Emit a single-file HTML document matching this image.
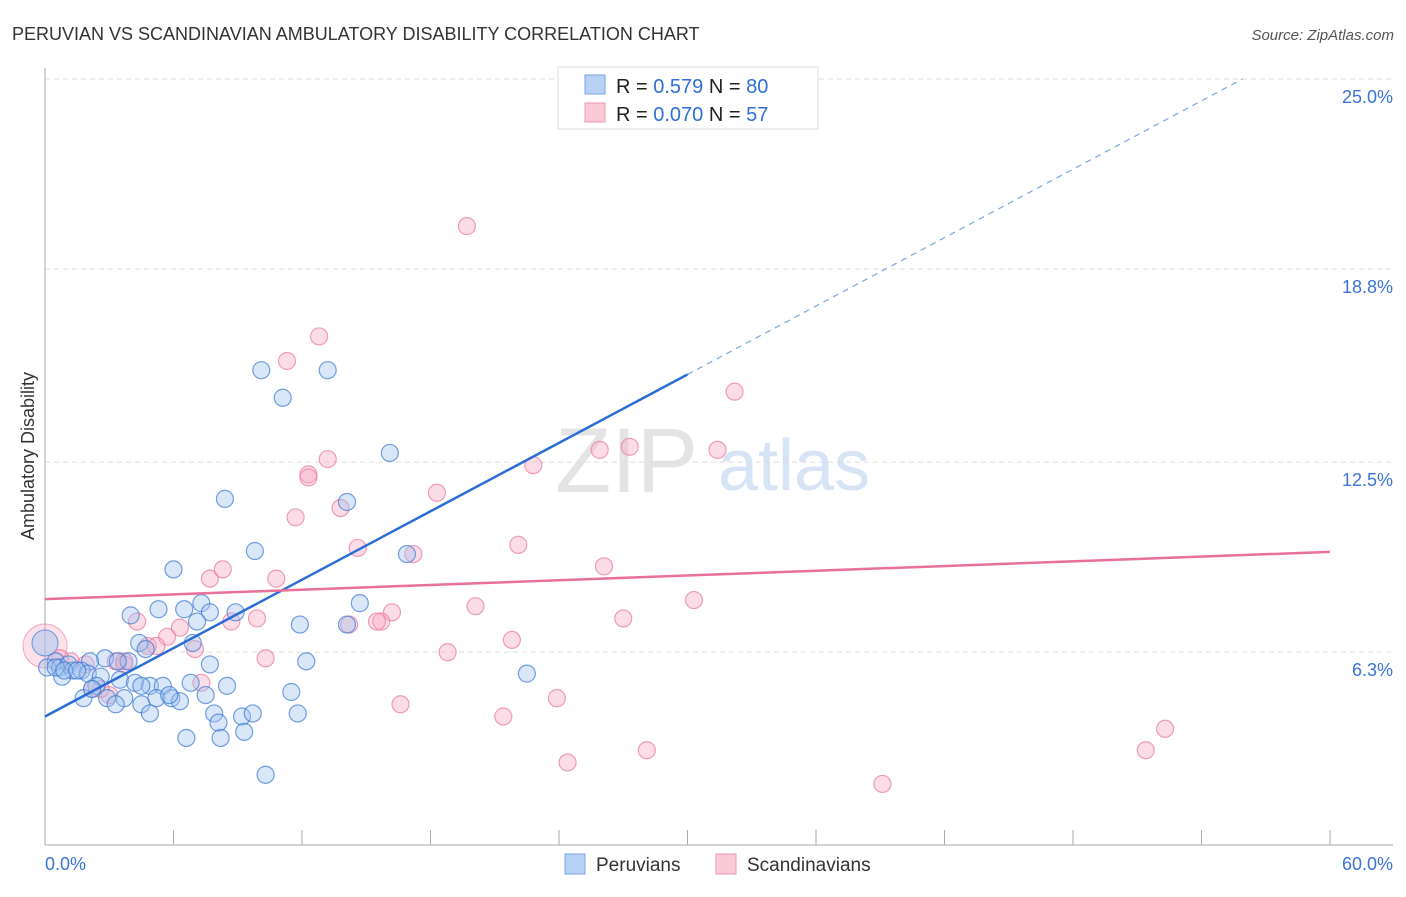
<!DOCTYPE html>
<html><head><meta charset="utf-8"><style>
body{margin:0;background:#fff;font-family:"Liberation Sans",sans-serif}
svg text{font-family:"Liberation Sans",sans-serif}
</style></head><body>
<svg width="1406" height="892" viewBox="0 0 1406 892">
<text x="12" y="40" font-size="18" fill="#333">PERUVIAN VS SCANDINAVIAN AMBULATORY DISABILITY CORRELATION CHART</text>
<text x="1394" y="40" font-size="15" fill="#555" text-anchor="end" font-style="italic">Source: ZipAtlas.com</text>
<text x="555" y="492" font-size="92" fill="#e4e4e4" font-family="Liberation Serif">ZIP</text>
<text x="718" y="490" font-size="72" fill="#d6e4f5">atlas</text>
<g id="grid"></g>
<g id="axes"></g>
<g id="pts"></g>
<g id="lines"></g>
<text transform="translate(34,456) rotate(-90)" font-size="18" fill="#333" text-anchor="middle">Ambulatory Disability</text>
<g>
<rect x="558" y="67" width="260" height="62" fill="#fff" stroke="#ddd"/>
<rect x="585" y="75" width="20" height="19" fill="#b8d2f5" stroke="#7aa6e0"/>
<rect x="585" y="103" width="20" height="19" fill="#fbcad8" stroke="#ee9ab3"/>
<text x="616" y="93" font-size="20" fill="#222">R = <tspan fill="#2f6fd6">0.579</tspan>   N = <tspan fill="#2f6fd6">80</tspan></text>
<text x="616" y="121" font-size="20" fill="#222">R = <tspan fill="#2f6fd6">0.070</tspan>   N =  <tspan fill="#2f6fd6">57</tspan></text>
</g>
<g>
<rect x="565" y="854" width="20" height="20" fill="#b8d2f5" stroke="#7aa6e0"/>
<text x="596" y="871" font-size="19" fill="#333">Peruvians</text>
<rect x="716" y="854" width="20" height="20" fill="#fbcad8" stroke="#ee9ab3"/>
<text x="747" y="871" font-size="19" fill="#333">Scandinavians</text>
</g>
</svg>
<script>
const blueX=[10.1,13.2,11.1,16.1,8.4,14.1,9.8,16.9,6.0,14.7,7.3,4.0,5.3,6.5,7.7,8.9,7.1,11.9,14.1,4.4,4.7,6.9,2.8,3.9,3.4,2.1,0.5,0.1,0.7,1.1,1.3,1.7,2.0,0.8,2.6,3.5,4.2,4.9,5.5,7.7,12.2,6.8,8.5,11.5,2.4,2.9,1.8,3.7,5.2,5.9,6.3,7.5,3.3,4.5,4.9,7.9,9.2,9.7,11.8,8.1,9.3,6.6,8.2,22.5,10.3,0.5,0.9,1.5,2.2,5.8,4.5];
const blueY=[15.5,15.5,14.6,12.8,11.3,11.2,9.6,9.5,9.0,7.9,7.9,7.5,7.7,7.7,7.6,7.6,7.3,7.2,7.2,6.6,6.4,6.6,6.1,6.0,6.0,6.0,6.0,5.8,5.8,5.9,5.7,5.7,5.6,5.5,5.5,5.4,5.3,5.2,5.2,5.9,6.0,5.3,5.2,5.0,5.2,4.8,4.8,4.8,4.8,4.8,4.7,4.9,4.6,4.6,4.3,4.3,4.2,4.3,4.3,4.0,3.7,3.5,3.5,5.6,2.3,5.8,5.7,5.7,5.1,4.9,5.2];
const pinkX=[19.7,12.8,11.3,32.2,27.3,31.4,25.9,13.2,22.8,12.3,18.3,11.7,13.8,14.6,22.1,17.2,26.1,7.7,8.3,10.8,20.1,30.3,16.2,4.3,8.7,9.9,15.7,15.5,14.2,27.0,6.3,5.7,4.8,5.2,7.0,21.8,18.8,10.3,3.3,3.7,1.2,1.9,0.7,7.3,16.6,23.9,21.4,52.3,51.4,28.1,24.4,39.1,3.0,2.6,3.7,12.3,2.2];
const pinkY=[20.2,16.6,15.8,14.8,13.0,12.9,12.9,12.6,12.4,12.1,11.5,10.7,11.0,9.7,9.8,9.5,9.1,8.7,9.0,8.7,7.8,8.0,7.6,7.3,7.3,7.4,7.3,7.3,7.2,7.4,7.1,6.8,6.5,6.5,6.4,6.7,6.3,6.1,6.0,6.0,6.0,5.9,6.1,5.3,4.6,4.8,4.2,3.8,3.1,3.1,2.7,2.0,4.9,5.1,5.9,12.0,5.1];
const yTicks=[25.0,18.8,12.5,6.3];
const yTickLabels=["25.0%","18.8%","12.5%","6.3%"];
const xTickCount=10;
const xMax=60;
const blueTrend=[4.2,0.372]; // intercept, slope
const pinkTrend=[8.03,0.0257];
const blueSolidEnd=30;

const X0=45,X1=1330,YT=79,PPU=30.65;
const sx=v=>X0+v*(X1-X0)/xMax;
const sy=v=>YT+(25-v)*PPU;
const NS="http://www.w3.org/2000/svg";
function mk(tag,parent,attrs){const e=document.createElementNS(NS,tag);for(const k in attrs)e.setAttribute(k,attrs[k]);parent.appendChild(e);return e;}
const grid=document.getElementById('grid'),axes=document.getElementById('axes'),pts=document.getElementById('pts'),lines=document.getElementById('lines');
yTicks.forEach((t,i)=>{
  const l=mk('line',grid,{x1:X0,x2:1393,y1:sy(t),y2:sy(t),stroke:'#ddd','stroke-dasharray':'5,4'});
  
  
  const tx=mk('text',axes,{x:1393,y:sy(t)+24,'font-size':18,fill:'#3a74d6','text-anchor':'end'});
  tx.textContent=yTickLabels[i];
  
  
});
const ya=mk('line',axes,{x1:X0,x2:X0,y1:68,y2:845,stroke:'#aaa'});


const xa=mk('line',axes,{x1:X0,x2:1393,y1:845,y2:845,stroke:'#aaa'});


for(let i=0;i<=xTickCount;i++){
  const x=sx(i*xMax/xTickCount);
  const t=mk('line',axes,{x1:x,x2:x,y1:830,y2:845,stroke:'#aaa'});
  
  
}
const xl0=mk('text',axes,{x:45,y:870,'font-size':18,fill:'#3a74d6'});xl0.textContent="0.0%";


const xl1=mk('text',axes,{x:1393,y:870,'font-size':18,fill:'#3a74d6','text-anchor':'end'});xl1.textContent="60.0%";


// big cluster circles
const bp=mk('circle',pts,{cx:sx(0),cy:sy(6.5),r:22,fill:'rgba(247,170,195,0.35)',stroke:'rgba(232,120,160,0.6)'});


const bb=mk('circle',pts,{cx:sx(0),cy:sy(6.6),r:13,fill:'rgba(160,195,240,0.5)',stroke:'rgba(60,120,210,0.7)'});


pinkX.forEach((v,i)=>{
  const c=mk('circle',pts,{cx:sx(v),cy:sy(pinkY[i]),r:8.5,fill:'rgba(247,170,195,0.4)',stroke:'rgba(232,120,160,0.7)','stroke-width':1.2});
  
  
});
blueX.forEach((v,i)=>{
  const c=mk('circle',pts,{cx:sx(v),cy:sy(blueY[i]),r:8.5,fill:'rgba(160,195,240,0.4)',stroke:'rgba(60,120,210,0.7)','stroke-width':1.2});
  
  
});
const bEnd=(25-blueTrend[0])/blueTrend[1];
const b1=mk('line',lines,{x1:sx(0),y1:sy(blueTrend[0]),x2:sx(blueSolidEnd),y2:sy(blueTrend[0]+blueTrend[1]*blueSolidEnd),stroke:'#2a6dd6','stroke-width':2.5});


const b2=mk('line',lines,{x1:sx(blueSolidEnd),y1:sy(blueTrend[0]+blueTrend[1]*blueSolidEnd),x2:sx(bEnd),y2:sy(25),stroke:'#7aa6e0','stroke-width':1.2,'stroke-dasharray':'6,5'});


const p1=mk('line',lines,{x1:sx(0),y1:sy(pinkTrend[0]),x2:sx(xMax),y2:sy(pinkTrend[0]+pinkTrend[1]*xMax),stroke:'#e8709a','stroke-width':2.5});


</script>
</body></html>
